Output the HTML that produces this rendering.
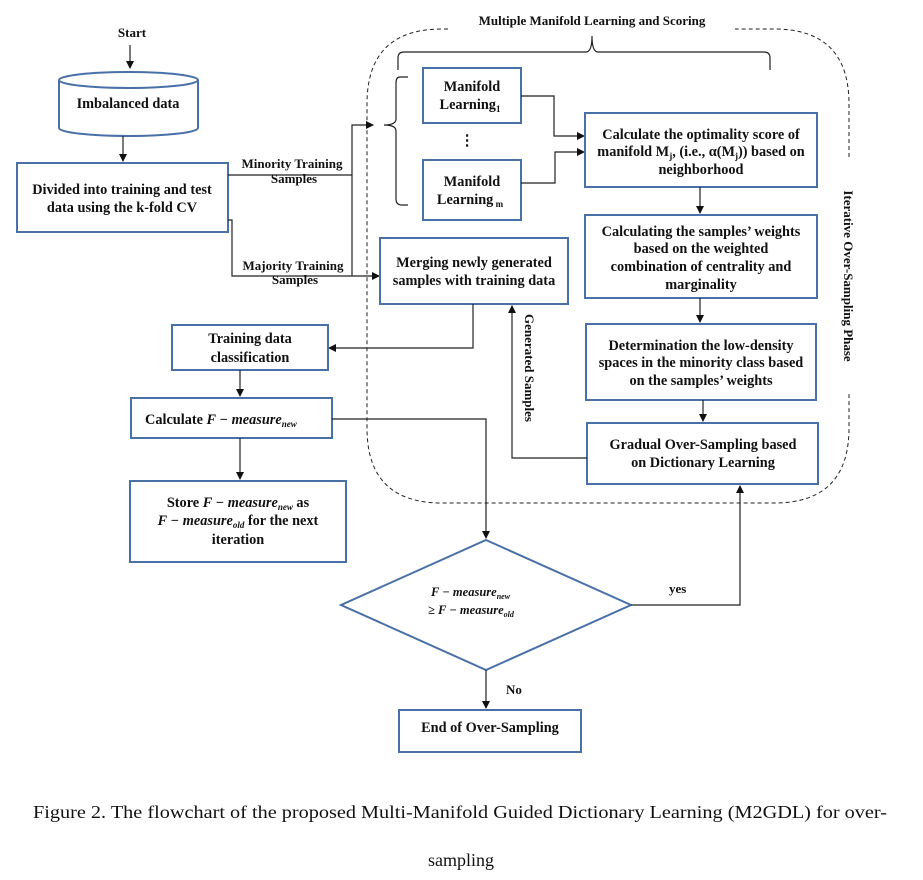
<!DOCTYPE html>
<html><head><meta charset="utf-8"><style>
html,body{margin:0;padding:0;background:#fff}
svg{display:block}
text{font-family:"Liberation Serif",serif;font-weight:bold;font-size:14.3px;fill:#111}
.c{text-anchor:middle}
.b{fill:#fff;stroke:#4a70a8;stroke-width:2}
.l{fill:none;stroke:#222;stroke-width:1.2}
.d{fill:none;stroke:#222;stroke-width:1;stroke-dasharray:4,3}
.i{font-style:italic}
.cap{font-weight:normal;font-size:18px}
.s{font-size:13px}
.sub{font-size:9px}
.dm{font-size:12.5px}
.dsub{font-size:8px}
</style></head><body>
<svg width="923" height="880" viewBox="0 0 923 880" xmlns="http://www.w3.org/2000/svg">
<defs><marker id="a" markerWidth="8" markerHeight="8" refX="7" refY="4" orient="auto" markerUnits="userSpaceOnUse"><path d="M0,0 L8,4 L0,8 z" fill="#111"/></marker></defs>

<path class="d" d="M448,29 L442,29 Q367,29 367,104 L367,428 Q367,503 442,503 L774,503 Q849,503 849,428 L849,392"/>
<path class="d" d="M849,157 L849,104 Q849,29 774,29 L735,29"/>
<text class="c s" x="592" y="25">Multiple Manifold Learning and Scoring</text>
<text class="c s" transform="translate(844,276) rotate(90)">Iterative Over-Sampling Phase</text>

<path class="l" stroke="#444" d="M398,70 L398,58 Q398,52 404,52 L586,52 Q592,52 592,36 Q592,52 598,52 L764,52 Q770,52 770,58 L770,70"/>
<path class="l" stroke="#444" d="M408,77 L400,77 Q396,77 396,83 L396,119 Q396,125 384,125 Q396,125 396,131 L396,199 Q396,205 402,205 L408,205"/>

<text class="c s" x="132" y="37">Start</text>
<line class="l" x1="130" y1="45" x2="130" y2="68" marker-end="url(#a)"/>
<path class="b" d="M59,80 L59,128 A69.5,8 0 0 0 198,128 L198,80"/>
<ellipse class="b" cx="128.5" cy="80" rx="69.5" ry="8"/>
<text class="c" x="128" y="108">Imbalanced data</text>
<line class="l" x1="123" y1="136" x2="123" y2="161" marker-end="url(#a)"/>

<rect class="b" x="17" y="163" width="211" height="69"/>
<text class="c" x="122" y="194">Divided into training and test</text>
<text class="c" x="122" y="212">data using the k-fold CV</text>

<path class="l" d="M228,175 L352,175 L352,125 L373,125" marker-end="url(#a)"/>
<path class="l" d="M228,220 L232,220 L232,276 L379,276" marker-end="url(#a)"/>
<line class="l" x1="352" y1="175" x2="352" y2="276"/>
<text class="c s" x="292" y="168">Minority Training</text>
<text class="c s" x="294" y="183">Samples</text>
<text class="c s" x="293" y="270">Majority Training</text>
<text class="c s" x="295" y="284">Samples</text>

<rect class="b" x="423" y="68" width="98" height="55"/>
<text class="c" x="472" y="91">Manifold</text>
<text class="c" x="470" y="109">Learning<tspan class="sub" dy="3">1</tspan></text>
<text class="c" x="467" y="145">⋮</text>
<rect class="b" x="423" y="160" width="98" height="60"/>
<text class="c" x="472" y="186">Manifold</text>
<text class="c" x="470" y="204">Learning<tspan class="sub" dy="3"> m</tspan></text>
<path class="l" d="M521,96 L554,96 L554,136 L584,136" marker-end="url(#a)"/>
<path class="l" d="M521,183 L555,183 L555,152 L584,152" marker-end="url(#a)"/>

<rect class="b" x="585" y="113" width="232" height="74"/>
<text class="c" x="701" y="139">Calculate the optimality score of</text>
<text class="c" x="701" y="156">manifold M<tspan class="sub" dy="3">j</tspan><tspan dy="-3">, (i.e., α(M</tspan><tspan class="sub" dy="3">j</tspan><tspan dy="-3">)) based on</tspan></text>
<text class="c" x="701" y="174">neighborhood</text>
<line class="l" x1="700" y1="187" x2="700" y2="213" marker-end="url(#a)"/>

<rect class="b" x="585" y="215" width="232" height="83"/>
<text class="c" x="701" y="236">Calculating the samples’ weights</text>
<text class="c" x="701" y="253">based on the weighted</text>
<text class="c" x="701" y="271">combination of centrality and</text>
<text class="c" x="701" y="289">marginality</text>
<line class="l" x1="700" y1="298" x2="700" y2="322" marker-end="url(#a)"/>

<rect class="b" x="586" y="324" width="230" height="76"/>
<text class="c" x="701" y="350">Determination the low-density</text>
<text class="c" x="701" y="367">spaces in the minority class based</text>
<text class="c" x="701" y="385">on the samples’ weights</text>
<line class="l" x1="703" y1="400" x2="703" y2="421" marker-end="url(#a)"/>

<rect class="b" x="587" y="423" width="231" height="61"/>
<text class="c" x="703" y="449">Gradual Over-Sampling based</text>
<text class="c" x="703" y="467">on Dictionary Learning</text>

<rect class="b" x="380" y="238" width="188" height="66"/>
<text class="c" x="474" y="267">Merging newly generated</text>
<text class="c" x="474" y="285">samples with training data</text>

<path class="l" d="M587,458 L512,458 L512,306" marker-end="url(#a)"/>
<text class="c s" transform="translate(525,368) rotate(90)">Generated Samples</text>

<path class="l" d="M473,304 L473,348 L329,348" marker-end="url(#a)"/>
<rect class="b" x="172" y="325" width="156" height="45"/>
<text class="c" x="250" y="343">Training data</text>
<text class="c" x="250" y="362">classification</text>
<line class="l" x1="240" y1="370" x2="240" y2="396" marker-end="url(#a)"/>

<rect class="b" x="131" y="398" width="201" height="40"/>
<text x="145" y="424">Calculate <tspan class="i">F − measure</tspan><tspan class="i sub" dy="3">new</tspan></text>
<line class="l" x1="240" y1="438" x2="240" y2="479" marker-end="url(#a)"/>

<rect class="b" x="130" y="481" width="216" height="81"/>
<text class="c" x="238" y="507">Store <tspan class="i">F − measure</tspan><tspan class="i sub" dy="3">new</tspan><tspan dy="-3"> as</tspan></text>
<text class="c" x="238" y="525"><tspan class="i">F − measure</tspan><tspan class="i sub" dy="3">old</tspan><tspan dy="-3"> for the next</tspan></text>
<text class="c" x="238" y="544">iteration</text>

<path class="l" d="M332,419 L486,419 L486,538" marker-end="url(#a)"/>
<polygon class="b" points="486,540 631,605 486,670 341,605"/>
<text x="431" y="596" class="i dm">F − measure<tspan class="dsub" dy="3">new</tspan></text>
<text x="428" y="614" class="i dm">≥ F − measure<tspan class="dsub" dy="3">old</tspan></text>

<path class="l" d="M631,605 L740,605 L740,486" marker-end="url(#a)"/>
<text x="669" y="593" class="s">yes</text>
<line class="l" x1="486" y1="670" x2="486" y2="708" marker-end="url(#a)"/>
<text x="506" y="694" class="s">No</text>

<rect class="b" x="399" y="710" width="182" height="42"/>
<text class="c" x="490" y="732">End of  Over-Sampling</text>

<text class="cap" x="33" y="818" textLength="854" lengthAdjust="spacingAndGlyphs">Figure 2. The flowchart of the proposed Multi-Manifold Guided Dictionary Learning (M2GDL) for over-</text>
<text class="cap c" x="461" y="866">sampling</text>
</svg>
</body></html>
